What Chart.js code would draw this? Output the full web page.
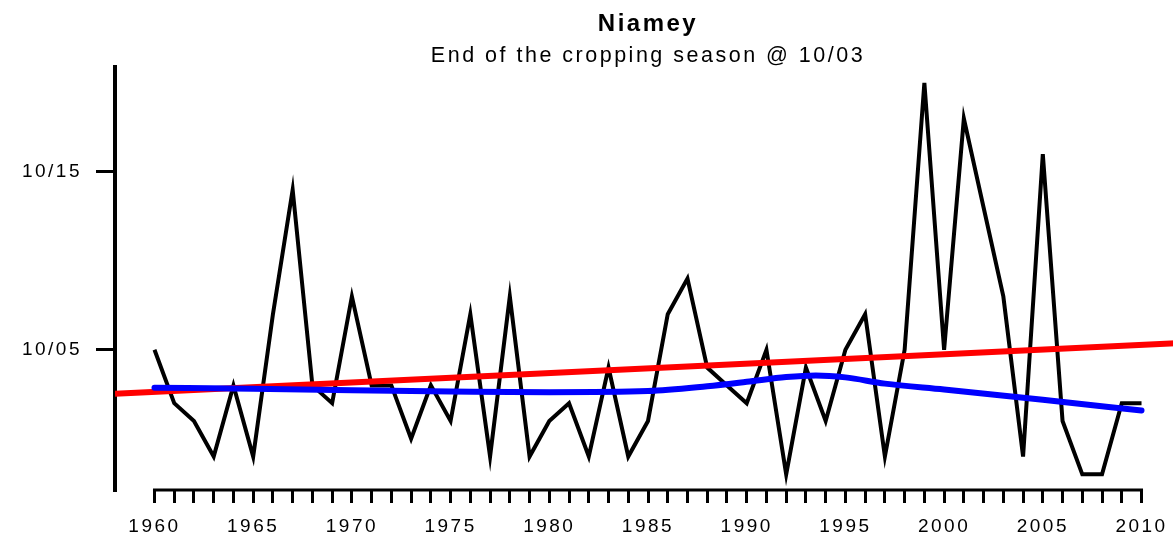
<!DOCTYPE html>
<html>
<head>
<meta charset="utf-8">
<script src="https://cdn.jsdelivr.net/npm/chart.js@4"></script>
<style>
  html, body { margin: 0; padding: 0; background: #fff; overflow: hidden; }
  #wrap { width: 1181px; height: 536px; }
</style>
</head>
<body>
<div id="wrap"><canvas id="endChart" width="1181" height="536"></canvas></div>
<script>
// Years of record
const years = [1960, 1961, 1962, 1963, 1964, 1965, 1966, 1967, 1968, 1969,
               1970, 1971, 1972, 1973, 1974, 1975, 1976, 1977, 1978, 1979,
               1980, 1981, 1982, 1983, 1984, 1985, 1986, 1987, 1988, 1989,
               1990, 1991, 1992, 1993, 1994, 1995, 1996, 1997, 1998, 1999,
               2000, 2001, 2002, 2003, 2004, 2005, 2006, 2007, 2008, 2009, 2010];

// End of the cropping season, day of October (0 = 09/30, -1 = 09/29 ...)
const endDay = [5, 2, 1, -1, 3, -1, 7, 14, 3, 2,
                8, 3, 3, 0, 3, 1, 7, -1, 8, -1,
                1, 2, -1, 4, -1, 1, 7, 9, 4, 3,
                2, 5, -2, 4, 1, 5, 7, -1, 5, 20,
                5, 18, 13, 8, -1, 16, 1, -2, -2, 2, 2];

// Linear trend (red), read at the plot edges
const trendYears = [1958, 2012];
const trendValues = [2.53, 5.39];

// Smoothed curve (blue)
const smoothYears = [1960, 1965, 1970, 1975, 1980, 1985, 1988, 1990, 1992, 1993.5, 1995, 1997, 2000, 2005, 2010];
const smoothValues = [2.87, 2.81, 2.72, 2.66, 2.62, 2.68, 2.95, 3.2, 3.47, 3.56, 3.45, 3.1, 2.77, 2.19, 1.59];

// Y axis ticks
const yTickValues = [5, 15];
const yTickLabels = ['10/05', '10/15'];

const toPoints = (xs, ys) => xs.map((x, i) => ({ x: x, y: ys[i] }));

// R-style wide lettering
const spacing = {
    id: 'spacing',
    beforeUpdate(chart) { chart.ctx.letterSpacing = '2.5px'; },
    beforeDraw(chart) { chart.ctx.letterSpacing = '2.5px'; }
};

// x axis line only spans the first to the last year
const xAxisLine = {
    id: 'xAxisLine',
    afterDraw(chart) {
        const sx = chart.scales.x;
        const ctx = chart.ctx;
        ctx.save();
        ctx.strokeStyle = '#000';
        ctx.lineWidth = 3;
        ctx.lineCap = 'square';
        ctx.beginPath();
        ctx.moveTo(sx.getPixelForValue(years[0]), sx.top);
        ctx.lineTo(sx.getPixelForValue(years[years.length - 1]), sx.top);
        ctx.stroke();
        ctx.restore();
    }
};

const ctx = document.getElementById('endChart').getContext('2d');

const chart = new Chart(ctx, {
    type: 'line',
    data: {
        datasets: [{
            label: 'Smooth',
            data: toPoints(smoothYears, smoothValues),
            borderColor: '#0000ff',
            borderWidth: 6,
            borderCapStyle: 'round',
            cubicInterpolationMode: 'monotone',
            pointRadius: 0,
            fill: false
        }, {
            label: 'Trend',
            data: toPoints(trendYears, trendValues),
            borderColor: '#ff0000',
            borderWidth: 6,
            pointRadius: 0,
            fill: false
        }, {
            label: 'End of season',
            data: toPoints(years, endDay),
            borderColor: '#000000',
            borderWidth: 4,
            borderJoinStyle: 'miter',
            tension: 0,
            pointRadius: 0,
            fill: false
        }]
    },
    options: {
        responsive: false,
        animation: false,
        devicePixelRatio: 1,
        layout: { padding: { top: 0, right: 0, bottom: 0, left: 0 } },
        plugins: {
            legend: { display: false },
            tooltip: { enabled: false },
            title: {
                display: true,
                fullSize: false,
                text: 'Niamey',
                color: '#000',
                font: { family: 'Liberation Sans', size: 24, weight: 'bold', lineHeight: 1.2 },
                padding: { top: 10, bottom: 7 }
            },
            subtitle: {
                display: true,
                fullSize: false,
                text: 'End of the cropping season @ 10/03',
                color: '#000',
                font: { family: 'Liberation Sans', size: 21.5, weight: 'normal', lineHeight: 1.0 },
                padding: { top: 0, bottom: 0 }
            }
        },
        scales: {
            x: {
                type: 'linear',
                min: 1958,
                max: 2012,
                afterBuildTicks(scale) {
                    scale.ticks = scale.ticks.filter(t => t.value >= years[0] && t.value <= years[years.length - 1]);
                },
                afterFit(scale) { scale.height = 46; },
                border: { display: false },
                grid: {
                    drawOnChartArea: false,
                    drawTicks: true,
                    tickLength: 13,
                    lineWidth: 3,
                    color: '#000'
                },
                ticks: {
                    stepSize: 1,
                    autoSkip: false,
                    maxRotation: 0,
                    padding: 12,
                    color: '#000',
                    font: { family: 'Liberation Sans', size: 19 },
                    callback: v => (v % 5 === 0 ? String(v) : '')
                }
            },
            y: {
                type: 'linear',
                min: -2.88,
                max: 20.88,
                afterBuildTicks(scale) {
                    scale.ticks = yTickValues.map(v => ({ value: v }));
                },
                afterFit(scale) { scale.width = 115; },
                border: { display: true, color: '#000', width: 4 },
                grid: {
                    drawOnChartArea: false,
                    drawTicks: true,
                    tickLength: 19,
                    lineWidth: 3,
                    color: '#000'
                },
                ticks: {
                    padding: 14,
                    color: '#000',
                    font: { family: 'Liberation Sans', size: 19 },
                    callback: v => yTickLabels[yTickValues.indexOf(v)]
                }
            }
        }
    },
    plugins: [spacing, xAxisLine]
});
</script>
</body>
</html>
